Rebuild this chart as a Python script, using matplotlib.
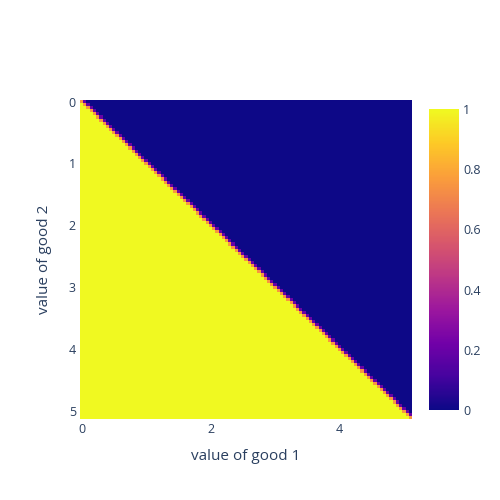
import numpy as np
import matplotlib
matplotlib.use("Agg")
import matplotlib.pyplot as plt
from matplotlib.colors import LinearSegmentedColormap

plt.rcParams['font.family'] = ['Open Sans', 'DejaVu Sans']

# grid of values for both goods (cell centres)
step = 0.05
n_cells = 103
good1 = np.round(np.arange(n_cells) * step, 2)
good2 = np.round(np.arange(n_cells) * step, 2)

# value along a row, by column offset from the diagonal
below_diag = 1.0
on_diag = 0.75
one_above = 0.2
far_above = 0.0

# plotly "Plasma"
plasma = ['#0d0887', '#46039f', '#7201a8', '#9c179e', '#bd3786',
          '#d8576b', '#ed7953', '#fb9f3a', '#fdca26', '#f0f921']
cmap = LinearSegmentedColormap.from_list('plotly_plasma', plasma)

z = np.full((len(good2), len(good1)), far_above)
for i in range(len(good2)):
    for j in range(len(good1)):
        if j < i:
            z[i, j] = below_diag
        elif j == i:
            z[i, j] = on_diag
        elif j == i + 1:
            z[i, j] = one_above

xe = np.append(good1 - step / 2, good1[-1] + step / 2)
ye = np.append(good2 - step / 2, good2[-1] + step / 2)

fig = plt.figure(figsize=(5, 5), dpi=100)
ax = fig.add_axes([80 / 500, 1 - 419 / 500, 332 / 500, 319 / 500])
mesh = ax.pcolormesh(xe, ye, z, cmap=cmap, vmin=0, vmax=1, shading='flat')
ax.set_xlim(xe[0], xe[-1])
ax.set_ylim(ye[-1], ye[0])

txt = '#2a3f5f'
ax.set_xticks([0, 2, 4])
ax.set_yticks([0, 1, 2, 3, 4, 5])
ax.tick_params(length=0, labelsize=9, colors=txt, pad=3)
for s in ax.spines.values():
    s.set_visible(False)
ax.set_xlabel('value of good 1', fontsize=11, color=txt, labelpad=9)
ax.set_ylabel('value of good 2', fontsize=11, color=txt, labelpad=12)

cax = fig.add_axes([429 / 500, 1 - 410 / 500, 30 / 500, 301 / 500])
cb = fig.colorbar(mesh, cax=cax)
cb.set_ticks([0, 0.2, 0.4, 0.6, 0.8, 1])
cb.set_ticklabels(['0', '0.2', '0.4', '0.6', '0.8', '1'])
cb.outline.set_visible(False)
cax.tick_params(length=0, labelsize=9, colors=txt, pad=3)

fig.savefig('out.png', dpi=100)
